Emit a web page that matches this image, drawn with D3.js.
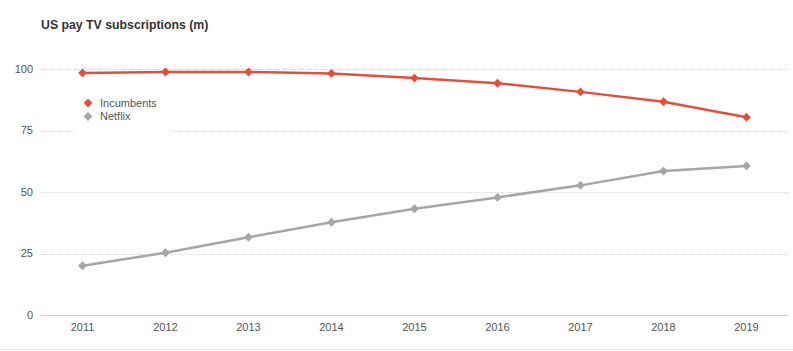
<!DOCTYPE html>
<html>
<head>
<meta charset="utf-8">
<script src="https://cdn.jsdelivr.net/npm/d3@7"></script>
<style>
  body { margin: 0; background: #fff; }
  svg { font-family: "Liberation Sans", Arial, sans-serif; }
</style>
</head>
<body>
<div id="chart"></div>
<script>
// Chart data
const years = ['2011', '2012', '2013', '2014', '2015', '2016', '2017', '2018', '2019'];
const incumbents = [98.4, 98.8, 98.8, 98.2, 96.3, 94.2, 90.7, 86.7, 80.4];
const netflix = [20.0, 25.3, 31.6, 37.7, 43.2, 47.8, 52.7, 58.5, 60.6];
const yTicks = [0, 25, 50, 75, 100];

const seriesNames = ['Incumbents', 'Netflix'];
const seriesColors = ['#e0503f', '#a6a6a6'];

function renderLineChart(containerId) {
    const width = 793;
    const height = 351;
    const margin = { top: 69, right: 5, bottom: 36, left: 41 };

    const svg = d3.select(`#${containerId}`)
        .append('svg')
        .attr('width', width)
        .attr('height', height);

    const x = d3.scaleBand()
        .domain(years)
        .range([margin.left, width - margin.right]);

    const y = d3.scaleLinear()
        .domain([0, 100])
        .range([height - margin.bottom, margin.top]);

    // Title
    svg.append('text')
        .attr('x', 41)
        .attr('y', 29)
        .style('font-size', '12.3px')
        .style('font-weight', 'bold')
        .style('fill', '#333')
        .text('US pay TV subscriptions (m)');

    // Gridlines (dotted)
    svg.append('g')
        .selectAll('line')
        .data(yTicks.filter(d => d > 0))
        .enter()
        .append('line')
        .attr('x1', margin.left)
        .attr('x2', width - margin.right)
        .attr('y1', d => Math.round(y(d)) + 0.5)
        .attr('y2', d => Math.round(y(d)) + 0.5)
        .attr('stroke', '#d6d6d6')
        .attr('stroke-dasharray', '1,1');

    // Baseline
    svg.append('line')
        .attr('x1', margin.left)
        .attr('x2', width - margin.right)
        .attr('y1', Math.round(y(0)) + 0.5)
        .attr('y2', Math.round(y(0)) + 0.5)
        .attr('stroke', '#cfcfcf')
        .attr('stroke-width', 1);

    // Y axis labels
    svg.append('g')
        .selectAll('text')
        .data(yTicks)
        .enter()
        .append('text')
        .attr('x', 33)
        .attr('y', d => y(d))
        .attr('dy', '0.35em')
        .attr('text-anchor', 'end')
        .style('font-size', '11px')
        .style('fill', '#555')
        .text(d => d);

    // X axis labels
    svg.append('g')
        .selectAll('text')
        .data(years)
        .enter()
        .append('text')
        .attr('x', d => x(d) + x.bandwidth() / 2)
        .attr('y', y(0) + 12)
        .attr('dy', '0.35em')
        .attr('text-anchor', 'middle')
        .style('font-size', '11px')
        .style('fill', '#555')
        .text(d => d);

    // Bottom border
    svg.append('line')
        .attr('x1', 0)
        .attr('x2', width)
        .attr('y1', 349.5)
        .attr('y2', 349.5)
        .attr('stroke', '#e6e6e6');

    const line = d3.line()
        .x((d, i) => x(years[i]) + x.bandwidth() / 2)
        .y(d => y(d));

    const diamond = d3.symbol().type(d3.symbolDiamond2).size(50);

    [incumbents, netflix].forEach((values, s) => {
        svg.append('path')
            .datum(values)
            .attr('fill', 'none')
            .attr('stroke', seriesColors[s])
            .attr('stroke-width', 2.5)
            .attr('d', line);

        svg.selectAll(`.pt${s}`)
            .data(values)
            .enter()
            .append('path')
            .attr('class', `pt${s}`)
            .attr('d', diamond)
            .attr('transform', (d, i) => `translate(${x(years[i]) + x.bandwidth() / 2},${y(d)})`)
            .attr('fill', seriesColors[s]);
    });

    // Legend with white box covering gridline
    const legend = svg.append('g')
        .attr('transform', 'translate(74, 90)');

    legend.append('rect')
        .attr('width', 99)
        .attr('height', 46)
        .attr('fill', '#fff');

    seriesNames.forEach((name, i) => {
        const row = legend.append('g')
            .attr('transform', `translate(14, ${13 + i * 13.5})`);

        row.append('path')
            .attr('d', diamond)
            .attr('fill', seriesColors[i]);

        row.append('text')
            .attr('x', 12)
            .attr('dy', '0.35em')
            .style('font-size', '11px')
            .style('fill', '#555')
            .text(name);
    });
}

renderLineChart('chart');
</script>
</body>
</html>
